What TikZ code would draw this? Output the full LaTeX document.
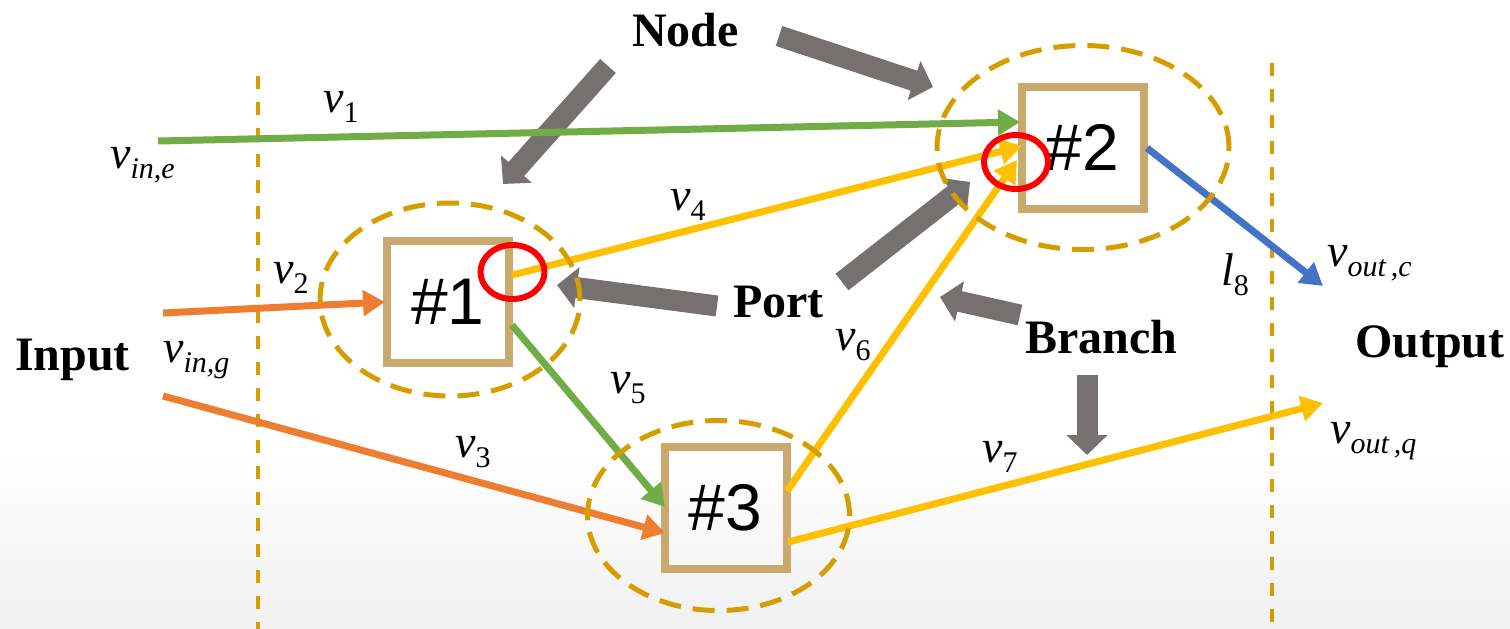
\documentclass[tikz,border=0pt]{standalone}
\usepackage{fontspec}
\setmainfont{Liberation Serif}
\newfontfamily\numfont{Liberation Sans}
\usetikzlibrary{arrows.meta,shapes.geometric}

\definecolor{flowgreen}{HTML}{70AD47}
\definecolor{floworange}{HTML}{ED7D31}
\definecolor{flowyellow}{HTML}{FFC000}
\definecolor{flowblue}{HTML}{4472C4}
\definecolor{pointergray}{HTML}{767171}
\definecolor{boxtan}{HTML}{C9A96E}
\definecolor{dashgold}{HTML}{D69D00}
\definecolor{bggray}{HTML}{F0F0F0}

% subscript set lower and smaller, as in the equation labels
\newcommand{\subx}[1]{\raisebox{-10pt}{\fontsize{30}{30}\selectfont #1}}
\newcommand{\vv}[1]{{\itshape v}\subx{#1}}

\begin{document}
\begin{tikzpicture}[x=1pt,y=-1pt,
  lbl/.style={anchor=base west,inner sep=0pt,font=\fontsize{46}{46}\selectfont},
  headword/.style={anchor=base west,inner sep=0pt,font=\fontsize{48}{48}\selectfont\bfseries},
  unitbox/.style={draw=boxtan,line width=8pt,minimum width=122pt,minimum height=122pt,
    inner sep=0pt,font=\numfont\fontsize{66}{66}\selectfont},
  group/.style={ellipse,draw=dashgold,line width=5pt,dash pattern=on 22pt off 12pt,inner sep=0pt},
  portring/.style={ellipse,draw=red,line width=6pt,inner sep=0pt,minimum width=64pt,minimum height=54pt},
  boundary/.style={draw=dashgold,line width=3.5pt,dash pattern=on 13pt off 13pt},
  flow/.style={line width=7pt,-{Triangle[length=22pt,width=25pt]}},
  pointer/.style={draw=pointergray,line width=21pt,-{Triangle[length=20pt,width=40pt]}}
]
\useasboundingbox (0,0) rectangle (1510,629);
\fill[white] (0,0) rectangle (1510,629);
\shade[top color=white,bottom color=bggray] (0,450) rectangle (1510,629);

% input / output boundaries
\draw[boundary] (258,76) -- (258,629);
\draw[boundary] (1272,63) -- (1272,629);

% processing units
\node[unitbox] (b1) at (448,301.5) {\#1};
\node[unitbox] (b2) at (1082.5,147.5) {\#2};
\node[unitbox] (b3) at (725.5,508) {\#3};

% free ends and ports
\coordinate (ine) at (158,141);
\coordinate (ingA) at (163,313);
\coordinate (ingB) at (163,396);
\coordinate (outc) at (1323,286);
\coordinate (outq) at (1323,403);
\coordinate (b2inA) at (1020,122);
\coordinate (b2inB) at (1022,146);
\coordinate (b2inC) at (1017,160);
\coordinate (b1in) at (385,302);
\coordinate (b1outA) at (512,275);
\coordinate (b1outB) at (512,325);
\coordinate (b3inA) at (665,533);
\coordinate (b3inB) at (665,507);
\coordinate (b3outA) at (787,491);
\coordinate (b3outB) at (788,542);
\coordinate (b2out) at (1147,148);

% pointer arrows ends
\coordinate (nA) at (608,66);   \coordinate (nAt) at (503,184);
\coordinate (nB) at (779,36);   \coordinate (nBt) at (933,87);
\coordinate (pA) at (717,306);  \coordinate (pAt) at (557,285);
\coordinate (pB) at (842,282);  \coordinate (pBt) at (970,182);
\coordinate (brA) at (1020,315); \coordinate (brAt) at (940,297);
\coordinate (brB) at (1087,375); \coordinate (brBt) at (1087,455);

% pointers from the captions
\draw[pointer] (nA) -- (nAt);
\draw[pointer] (nB) -- (nBt);
\draw[pointer] (pA) -- (pAt);
\draw[pointer] (pB) -- (pBt);
\draw[pointer] (brA) -- (brAt);
\draw[pointer] (brB) -- (brBt);

% flows
\draw[flow,flowgreen]  (ine) -- (b2inA);
\draw[flow,floworange] (ingA) -- (b1in);
\draw[flow,floworange] (ingB) -- (b3inA);
\draw[flow,flowyellow] (b1outA) -- (b2inB);
\draw[flow,flowgreen]  (b1outB) -- (b3inB);
\draw[flow,flowyellow] (b3outA) -- (b2inC);
\draw[flow,flowyellow] (b3outB) -- (outq);
\draw[flow,flowblue]   (b2out) -- (outc);

% node groups
\node[group,minimum width=260pt,minimum height=193pt] (e1) at (450,299.5) {};
\node[group,minimum width=292pt,minimum height=204pt] (e2) at (1083,147.5) {};
\node[group,minimum width=262pt,minimum height=190pt] (e3) at (718.5,515.5) {};

% highlighted ports
\node[portring] (p1) at (512.5,272) {};
\node[portring] (p2) at (1016,162) {};

% captions
\node[headword] (tnode) at (632,46) {Node};
\node[headword] (tinput) at (15,370) {Input};
\node[headword] (tport) at (733,317) {Port};
\node[headword] (tbranch) at (1025,353) {Branch};
\node[headword] (toutput) at (1355,357) {Output};

% flow labels
\node[lbl] (l1) at (323,112) {\vv{1}};
\node[lbl] (lie) at (110,168) {\vv{\itshape in,e}};
\node[lbl] (l2) at (273,283) {\vv{2}};
\node[lbl] (lig) at (163,362) {\vv{\itshape in,g}};
\node[lbl] (l3) at (455,457) {\vv{3}};
\node[lbl] (l4) at (670,210) {\vv{4}};
\node[lbl] (l5) at (610,393) {\vv{5}};
\node[lbl] (l6) at (835,350) {\vv{6}};
\node[lbl] (l7) at (982,462) {\vv{7}};
\node[lbl] (l8) at (1221,285) {{\itshape l}\subx{8}};
\node[lbl] (loc) at (1327,266) {\vv{\itshape out\,,c}};
\node[lbl] (loq) at (1330,443) {\vv{\itshape out\,,q}};
\end{tikzpicture}
\end{document}
